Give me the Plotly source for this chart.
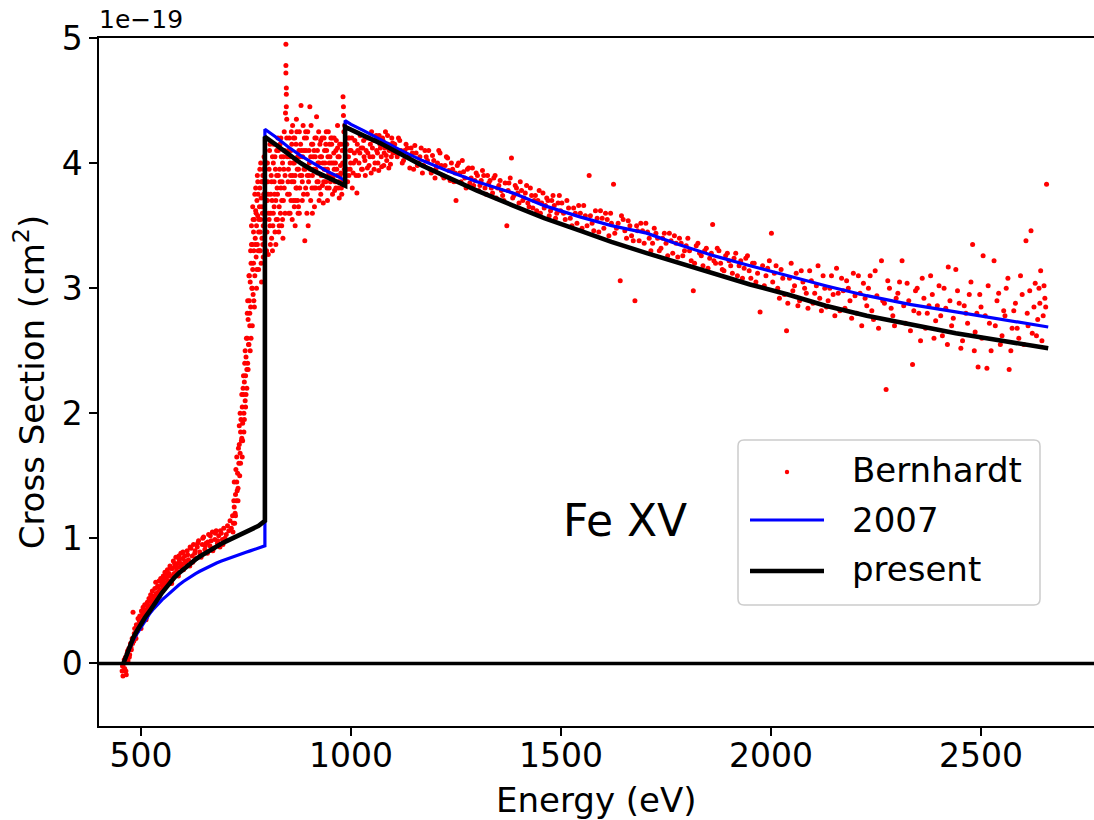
import plotly.graph_objects as go

# ---------------- Bernhardt measurement (x in eV, y in 1e-19 cm^2) ----------------
bern_e_low = [455, 457, 459, 461, 463, 465, 467, 469, 471, 473, 475, 477, 479, 481, 483, 485, 487, 489, 491, 493,
              495, 497, 499, 501, 503, 505, 507, 509, 511, 513, 515, 517, 519, 521, 523, 525, 527, 529, 531, 533,
              535, 537, 539, 541, 543, 545, 547, 549, 551, 553, 555, 557, 559, 561, 563, 565, 567, 569, 571, 573,
              575, 577, 579, 581, 583, 585, 587, 589, 591, 593, 595, 597, 599, 601, 604, 607, 610, 613, 616, 619,
              622, 625, 628, 631, 634, 637, 640, 643, 646, 649, 652, 655, 658, 661, 664, 667, 670, 673, 676, 679,
              682, 685, 688, 691, 694, 697, 700]
bern_y_low = [-0.06, -0.10, 0.00, -0.04, 0.05, -0.09, 0.08, 0.02, 0.12, 0.07, 0.16, 0.11, 0.20, 0.41, 0.18, 0.28, 0.23, 0.31, 0.26, 0.36,
              0.29, 0.38, 0.32, 0.42, 0.35, 0.45, 0.38, 0.47, 0.41, 0.37, 0.49, 0.44, 0.52, 0.46, 0.55, 0.49, 0.58, 0.51, 0.47, 0.60,
              0.65, 0.55, 0.61, 0.57, 0.66, 0.59, 0.68, 0.63, 0.58, 0.70, 0.65, 0.73, 0.62, 0.69, 0.75, 0.66, 0.72, 0.78, 0.70, 0.64,
              0.76, 0.82, 0.72, 0.78, 0.85, 0.74, 0.80, 0.70, 0.83, 0.77, 0.88, 0.79, 0.84, 0.75, 0.86, 0.80, 0.90, 0.83, 0.78, 0.92,
              0.86, 0.95, 0.88, 0.84, 0.93, 0.98, 0.89, 0.85, 0.95, 1.01, 0.91, 0.96, 0.88, 1.03, 0.94, 0.98, 1.05, 0.92, 0.99, 1.06,
              0.96, 1.02, 0.93, 1.04, 0.99, 1.08, 1.00]

bern_e_low2 = [456, 460, 464, 468, 472, 476, 480, 484, 488, 492, 496, 500, 504, 508, 512, 516, 520, 524, 528, 532,
               536, 540, 544, 548, 552, 556, 560, 564, 568, 572, 576, 580, 585, 590, 595, 600, 605, 611, 617, 623,
               629, 635, 641, 647, 653, 659, 665, 671, 677, 683, 689, 695]
bern_y_low2 = [-0.02, 0.03, -0.06, 0.10, 0.05, 0.13, 0.16, 0.24, 0.20, 0.29, 0.34, 0.28, 0.40, 0.43, 0.35, 0.46, 0.42, 0.50, 0.54, 0.52,
               0.56, 0.62, 0.54, 0.66, 0.61, 0.68, 0.72, 0.64, 0.70, 0.76, 0.68, 0.80, 0.77, 0.86, 0.80, 0.89, 0.82, 0.87, 0.93, 0.81,
               0.90, 0.96, 0.87, 1.00, 0.94, 0.97, 1.02, 0.90, 1.04, 0.98, 1.06, 0.95]

bern_e_rise = [703, 706, 709, 712, 715, 718, 720, 722, 724, 725, 727, 728, 730, 731, 733, 734, 736, 737, 738, 740,
               741, 742, 744, 745, 746, 748, 749, 750, 752, 753, 754, 755, 757, 758, 759, 760, 761, 762, 764, 765,
               766, 767, 768, 769, 770, 771, 772, 773, 774, 775, 776, 777, 778, 779, 780, 782, 783, 784, 785, 786,
               787, 788, 789, 790, 791, 792]
bern_y_rise = [1.03, 1.10, 1.06, 1.14, 1.08, 1.18, 1.12, 1.25, 1.20, 1.35, 1.30, 1.45, 1.52, 1.40, 1.60, 1.75, 1.68, 1.85, 1.95, 1.80,
               2.05, 1.92, 2.15, 2.00, 2.25, 2.10, 2.30, 2.45, 2.20, 2.60, 2.40, 2.75, 2.55, 2.90, 2.70, 3.05, 2.85, 3.20, 3.00, 3.35,
               3.15, 2.95, 3.45, 3.30, 3.55, 3.10, 3.40, 3.62, 3.25, 3.50, 3.70, 3.35, 3.58, 3.75, 3.45, 3.65, 3.80, 3.30, 3.55, 3.72,
               3.85, 3.40, 3.60, 3.90, 3.50, 3.75]

bern_pts_rise2 = [(719, 1.05), (721, 1.30), (723, 1.12), (726, 1.55), (729, 1.38), (732, 1.72), (735, 1.50), (736, 2.00),
                  (739, 1.78), (741, 1.65), (743, 2.20), (745, 1.85), (747, 2.40), (749, 2.05), (751, 2.60), (752, 2.35),
                  (754, 2.90), (756, 2.55), (757, 3.10), (759, 2.80), (761, 3.30), (762, 2.60), (763, 3.50), (765, 3.00),
                  (766, 3.65), (768, 3.20), (769, 2.90), (771, 3.75), (772, 3.35), (774, 3.60), (776, 3.15), (778, 3.85),
                  (779, 3.30), (781, 3.55), (783, 3.95), (784, 3.45), (786, 3.20), (788, 3.65), (790, 3.35), (792, 3.95),
                  (794, 3.60)]

bern_pts_rise3 = [(722, 1.45), (725, 1.18), (728, 1.65), (731, 1.30), (734, 1.90), (737, 1.60), (740, 2.15), (742, 1.78),
                  (744, 2.30), (746, 1.95), (748, 2.50), (750, 2.15), (753, 2.80), (755, 2.35), (758, 3.10), (760, 2.50),
                  (763, 3.35), (765, 2.70), (767, 3.55), (770, 2.85), (773, 3.80), (775, 3.00), (777, 3.90), (780, 3.15),
                  (782, 3.30), (785, 4.00), (787, 3.05), (789, 3.85), (791, 3.25), (793, 4.05)]

bern_e_peak = [795, 797, 799, 801, 803, 805, 807, 809, 811, 813, 815, 817, 819, 821, 823, 825, 827, 829, 831, 833,
               835, 837, 839, 841, 843, 844, 845, 845, 845, 846, 846, 846, 847, 847, 848, 849, 851, 853, 855, 857,
               859, 861, 863, 865, 867, 869, 871, 873, 875, 877, 879]
bern_y_peak = [3.55, 3.85, 3.30, 3.70, 3.27, 3.95, 3.50, 3.75, 3.40, 4.05, 3.60, 3.85, 3.45, 3.70, 4.10, 3.55, 3.90, 3.65, 4.15, 3.80,
               3.50, 4.00, 3.70, 4.25, 3.90, 4.40, 4.95, 4.78, 4.72, 4.60, 4.55, 4.45, 4.35, 4.20, 4.05, 3.75, 3.95, 4.20, 3.60, 4.10,
               3.85, 4.30, 3.70, 4.00, 3.50, 4.15, 3.80, 4.05, 3.65, 4.25, 3.90]

bern_pts_peak2 = [(796, 3.70), (798, 4.00), (800, 3.45), (802, 3.85), (804, 3.60), (806, 4.10), (808, 3.35), (810, 3.90),
                  (812, 3.70), (814, 3.50), (816, 4.15), (818, 3.75), (820, 3.95), (822, 3.55), (824, 3.80), (826, 4.20),
                  (828, 3.45), (830, 3.95), (832, 3.60), (834, 4.05), (836, 3.85), (838, 3.40), (840, 3.95), (842, 4.10),
                  (850, 3.85), (852, 3.60), (854, 4.05), (856, 3.90), (858, 4.25), (860, 3.55), (862, 4.00), (864, 3.85),
                  (866, 4.20), (868, 3.70), (870, 4.35), (872, 3.95), (874, 3.60), (876, 4.10), (878, 3.80), (880, 4.15)]

bern_pts_peak3 = [(801, 4.00), (803, 3.75), (805, 3.55), (807, 4.15), (809, 3.60), (811, 3.85), (813, 3.30), (815, 4.00),
                  (817, 3.65), (819, 4.05), (821, 3.35), (823, 3.90), (825, 3.75), (827, 4.10), (829, 3.50), (831, 3.85),
                  (833, 4.20), (835, 3.70), (837, 3.55), (839, 4.05), (841, 3.80), (843, 3.60), (851, 4.10), (853, 3.75),
                  (855, 4.00), (857, 3.70), (859, 4.15), (861, 3.90), (863, 4.20), (865, 3.65), (867, 3.90), (869, 3.80),
                  (871, 4.25), (873, 3.70), (875, 3.95), (877, 3.60), (879, 4.05)]

bern_e_mid = [881, 883, 885, 887, 889, 890, 891, 893, 895, 897, 899, 901, 902, 904, 906, 908, 910, 912, 914, 916,
              918, 920, 922, 924, 926, 928, 930, 932, 934, 936, 938, 940, 942, 944, 946, 948, 950, 952, 954, 956,
              958, 960, 962, 964, 966, 968, 970, 972, 974, 976, 978, 980, 981, 982, 982, 983, 984, 985]
bern_y_mid = [4.46, 3.90, 4.05, 3.75, 4.20, 3.38, 3.95, 4.10, 3.60, 4.25, 3.85, 4.00, 4.45, 3.70, 4.15, 3.90, 4.05, 3.80, 4.20, 3.95,
              4.37, 4.10, 3.85, 4.00, 4.15, 3.75, 4.05, 3.90, 3.68, 4.20, 4.00, 3.85, 4.10, 3.95, 4.25, 3.80, 4.05, 3.90, 4.15, 3.75,
              4.00, 4.20, 3.85, 4.10, 3.95, 4.30, 3.80, 4.05, 3.90, 4.15, 3.75, 4.00, 4.53, 4.45, 4.38, 4.25, 3.95, 4.10]

bern_pts_mid2 = [(882, 4.10), (884, 3.70), (886, 4.30), (888, 3.95), (892, 3.80), (894, 4.20), (896, 3.90), (898, 3.50),
                 (900, 4.10), (903, 3.95), (905, 4.30), (907, 3.80), (909, 4.15), (911, 3.95), (913, 3.65), (915, 4.05),
                 (917, 4.20), (919, 3.85), (921, 4.00), (923, 4.25), (925, 3.80), (927, 4.05), (929, 3.90), (931, 4.20),
                 (933, 4.00), (935, 3.85), (937, 4.10), (939, 3.95), (941, 4.25), (943, 3.80), (945, 4.05), (947, 3.92),
                 (949, 4.15), (951, 3.85), (953, 4.00), (955, 4.20), (957, 3.90), (959, 4.08), (961, 3.78), (963, 4.00),
                 (965, 4.18), (967, 3.90), (969, 4.05), (971, 3.85), (973, 4.15), (975, 3.98), (977, 3.80), (979, 4.10),
                 (983, 3.85), (985, 4.30)]

bern_pts_mid3 = [(884, 3.85), (888, 4.10), (892, 4.25), (896, 3.75), (900, 3.90), (904, 4.05), (908, 3.60), (912, 4.10),
                 (916, 3.80), (920, 3.92), (924, 3.70), (928, 4.18), (932, 3.82), (936, 3.95), (940, 4.15), (944, 3.70),
                 (948, 4.00), (952, 4.20), (956, 3.88), (960, 3.95), (964, 3.80), (968, 4.12), (972, 3.72), (976, 3.92),
                 (980, 3.85), (984, 4.15)]

bern_e_edge = [988, 990, 992, 994, 996, 998, 1000, 1003, 1006, 1009, 1012, 1014, 1016, 1019, 1022, 1025, 1028, 1031, 1034, 1037,
               1040, 1043, 1046, 1049, 1052, 1055, 1058, 1061, 1064, 1067, 1070, 1073, 1076, 1079, 1082, 1085, 1088, 1091, 1094, 1097,
               1100]
bern_y_edge = [3.90, 4.15, 3.85, 4.05, 4.20, 3.95, 4.10, 3.80, 4.00, 4.18, 3.90, 3.76, 4.10, 4.00, 4.22, 3.95, 4.12, 4.05, 3.90, 4.20,
               4.08, 3.98, 4.15, 4.25, 4.05, 3.95, 4.18, 4.10, 4.00, 4.22, 4.12, 3.97, 4.18, 4.08, 4.25, 4.02, 4.15, 4.10, 3.99, 4.20,
               4.08]

bern_pts_edge2 = [(989, 4.05), (991, 3.95), (993, 4.20), (995, 3.90), (997, 4.10), (999, 4.00), (1002, 4.20), (1005, 3.92),
                  (1008, 4.08), (1011, 4.02), (1015, 4.15), (1018, 3.90), (1021, 4.08), (1024, 4.12), (1027, 3.95), (1030, 4.18),
                  (1033, 4.02), (1036, 4.10), (1039, 3.96), (1042, 4.20), (1045, 4.05), (1048, 3.92), (1051, 4.12), (1054, 4.18),
                  (1057, 4.00), (1060, 4.22), (1063, 4.08), (1066, 3.94), (1069, 4.15), (1072, 4.05), (1075, 4.20), (1078, 3.98),
                  (1081, 4.12), (1084, 4.06), (1087, 4.22), (1090, 3.96), (1093, 4.14), (1096, 4.05), (1099, 4.16)]

bern_e_tail1 = [1104, 1110, 1116, 1122, 1128, 1134, 1140, 1146, 1152, 1158, 1164, 1170, 1176, 1182, 1188, 1194, 1200, 1206, 1212, 1218,
                1224, 1230, 1236, 1242, 1248, 1250, 1256, 1262, 1268, 1274, 1280, 1286, 1292, 1298, 1304, 1310, 1316, 1322, 1328, 1334,
                1340, 1346, 1352, 1358, 1364, 1371, 1376, 1382, 1388, 1394, 1400, 1406, 1412, 1418, 1424, 1430, 1436, 1442, 1448, 1454,
                1460, 1466, 1472, 1478, 1484, 1490, 1496]
bern_y_tail1 = [4.15, 4.05, 4.18, 4.00, 4.10, 4.12, 3.96, 4.08, 4.14, 3.98, 4.05, 3.92, 4.10, 4.02, 3.95, 4.06, 3.88, 4.00, 4.08, 3.90,
                3.98, 4.04, 3.86, 3.95, 3.92, 3.70, 4.00, 3.85, 3.93, 3.80, 3.96, 3.88, 3.82, 3.92, 3.78, 3.86, 3.90, 3.75, 3.84, 3.80,
                3.88, 3.72, 3.82, 3.78, 3.70, 3.50, 3.84, 4.04, 3.74, 3.80, 3.68, 3.78, 3.72, 3.82, 3.65, 3.74, 3.70, 3.62, 3.78, 3.68,
                3.64, 3.72, 3.58, 3.70, 3.66, 3.60, 3.74]

bern_pts_tail1b = [(1107, 4.08), (1113, 4.20), (1119, 4.10), (1125, 4.02), (1131, 4.15), (1137, 4.05), (1143, 4.12), (1149, 3.95),
                   (1155, 4.08), (1161, 4.00), (1167, 4.12), (1173, 3.98), (1179, 4.05), (1185, 4.10), (1191, 3.92), (1197, 4.02),
                   (1203, 3.96), (1209, 4.10), (1215, 3.98), (1221, 3.88), (1227, 4.05), (1233, 3.94), (1239, 4.00), (1245, 3.85),
                   (1253, 3.98), (1259, 3.92), (1265, 4.02), (1271, 3.88), (1277, 3.95), (1283, 3.84), (1289, 3.96), (1295, 3.86),
                   (1301, 3.90), (1307, 3.82), (1313, 3.94), (1319, 3.80), (1325, 3.90), (1331, 3.86), (1337, 3.76), (1343, 3.90),
                   (1349, 3.80), (1355, 3.86), (1361, 3.74), (1367, 3.84), (1374, 3.78), (1379, 3.88), (1385, 3.72), (1391, 3.82),
                   (1397, 3.76), (1403, 3.85), (1409, 3.70), (1415, 3.76), (1421, 3.68), (1427, 3.80), (1433, 3.64), (1439, 3.74),
                   (1445, 3.70), (1451, 3.60), (1457, 3.76), (1463, 3.66), (1469, 3.70), (1475, 3.62), (1481, 3.74), (1487, 3.56),
                   (1493, 3.68), (1499, 3.62)]

bern_e_tail2 = [1502, 1510, 1518, 1526, 1534, 1542, 1550, 1558, 1567, 1574, 1582, 1590, 1598, 1606, 1614, 1620, 1625, 1632, 1641, 1648,
                1656, 1664, 1672, 1676, 1682, 1690, 1698, 1706, 1714, 1722, 1730, 1738, 1746, 1754, 1762, 1770, 1778, 1786, 1794, 1802,
                1810, 1815, 1822, 1830, 1838, 1846, 1854, 1861, 1868, 1876, 1884, 1892, 1900, 1908, 1916, 1924, 1932, 1940, 1948, 1956,
                1964, 1974, 1980, 1988, 1996, 2001]
bern_y_tail2 = [3.68, 3.55, 3.64, 3.50, 3.60, 3.66, 3.48, 3.58, 3.90, 3.52, 3.62, 3.45, 3.56, 3.60, 3.42, 3.52, 3.83, 3.48, 3.06, 3.55,
                3.40, 3.50, 3.38, 2.90, 3.46, 3.52, 3.36, 3.45, 3.30, 3.48, 3.40, 3.32, 3.44, 3.26, 3.38, 3.42, 3.25, 3.36, 3.30, 3.40,
                3.22, 2.98, 3.34, 3.28, 3.18, 3.32, 3.24, 3.51, 3.20, 3.30, 3.15, 3.26, 3.22, 3.12, 3.28, 3.18, 3.08, 3.24, 3.14, 3.20,
                3.05, 2.81, 3.18, 3.10, 3.22, 3.44]

bern_pts_tail2b = [(1506, 3.60), (1514, 3.70), (1522, 3.56), (1530, 3.64), (1538, 3.52), (1546, 3.60), (1554, 3.66), (1562, 3.50),
                   (1570, 3.58), (1578, 3.46), (1586, 3.56), (1594, 3.62), (1602, 3.48), (1610, 3.55), (1618, 3.60), (1628, 3.44),
                   (1636, 3.52), (1644, 3.58), (1652, 3.46), (1660, 3.54), (1668, 3.42), (1680, 3.50), (1686, 3.38), (1694, 3.46),
                   (1702, 3.52), (1710, 3.40), (1718, 3.36), (1726, 3.44), (1734, 3.30), (1742, 3.40), (1750, 3.36), (1758, 3.44),
                   (1766, 3.28), (1774, 3.36), (1782, 3.40), (1790, 3.26), (1798, 3.34), (1806, 3.30), (1818, 3.20), (1826, 3.36),
                   (1834, 3.26), (1842, 3.30), (1850, 3.16), (1858, 3.28), (1864, 3.22), (1872, 3.32), (1880, 3.20), (1888, 3.14),
                   (1896, 3.28), (1904, 3.18), (1912, 3.24), (1920, 3.10), (1928, 3.22), (1936, 3.16), (1944, 3.26), (1952, 3.08),
                   (1960, 3.20), (1968, 3.12), (1984, 3.02), (1992, 3.16)]

bern_e_tail3 = [2008, 2016, 2024, 2032, 2037, 2044, 2052, 2060, 2068, 2076, 2084, 2092, 2100, 2108, 2116, 2124, 2132, 2140, 2148, 2156,
                2164, 2172, 2180, 2188, 2196, 2204, 2212, 2220, 2228, 2236, 2244, 2252, 2263, 2270, 2274, 2282, 2290, 2298, 2306, 2312,
                2320, 2328, 2337, 2344, 2352, 2360, 2368, 2376, 2384, 2392, 2400, 2408, 2416, 2422, 2430, 2440, 2448, 2456, 2464, 2472,
                2480, 2486, 2493, 2500, 2505, 2514, 2520, 2531, 2538, 2546, 2554, 2560, 2567, 2574, 2582, 2590, 2598, 2607, 2612, 2619,
                2626, 2632, 2638, 2642, 2648, 2652, 2656]
bern_y_tail3 = [3.12, 3.00, 3.15, 2.95, 2.66, 3.08, 2.98, 3.12, 2.90, 3.05, 2.96, 3.14, 2.88, 3.02, 2.92, 3.10, 2.85, 3.00, 2.95, 3.16,
                2.82, 2.98, 3.06, 2.90, 3.12, 2.80, 2.96, 3.04, 2.86, 3.10, 2.75, 2.94, 3.22, 2.88, 2.19, 3.00, 2.78, 2.92, 3.05, 3.22,
                2.72, 2.90, 2.39, 2.98, 2.80, 3.08, 2.68, 2.86, 2.95, 2.74, 3.02, 2.62, 2.84, 3.17, 2.70, 3.15, 2.88, 2.58, 2.80, 2.95,
                3.35, 2.65, 2.37, 2.85, 3.26, 2.36, 2.72, 3.22, 2.90, 2.55, 2.82, 3.00, 2.35, 2.68, 2.88, 2.60, 2.95, 3.38, 2.70, 3.46,
                2.85, 2.62, 3.00, 3.14, 2.78, 2.92, 3.83]

bern_pts_tail3b = [(2004, 3.05), (2012, 3.18), (2020, 2.92), (2028, 3.08), (2040, 2.88), (2048, 3.20), (2056, 3.02), (2064, 2.86),
                   (2072, 3.14), (2080, 3.00), (2088, 2.84), (2096, 3.06), (2104, 2.96), (2112, 3.18), (2120, 2.82), (2128, 3.00),
                   (2136, 2.90), (2144, 3.10), (2152, 2.78), (2160, 2.96), (2168, 3.08), (2176, 2.84), (2184, 3.00), (2192, 2.76),
                   (2200, 2.94), (2208, 3.10), (2216, 2.70), (2224, 2.92), (2232, 3.00), (2240, 2.82), (2248, 3.14), (2256, 2.68),
                   (2266, 2.90), (2278, 3.06), (2286, 2.84), (2294, 2.70), (2302, 2.96), (2316, 2.86), (2324, 3.04), (2332, 2.66),
                   (2340, 2.82), (2348, 3.00), (2356, 2.58), (2364, 2.92), (2372, 2.80), (2380, 3.10), (2388, 2.60), (2396, 2.86),
                   (2404, 2.78), (2412, 3.00), (2420, 2.55), (2426, 2.90), (2434, 2.76), (2444, 2.98), (2452, 2.52), (2460, 2.86),
                   (2468, 2.72), (2476, 3.05), (2484, 2.50), (2490, 2.80), (2497, 2.95), (2502, 2.60), (2510, 2.78), (2517, 3.02),
                   (2524, 2.50), (2534, 2.70), (2542, 2.96), (2550, 2.62), (2557, 2.78), (2564, 3.08), (2571, 2.50), (2578, 2.82),
                   (2586, 2.68), (2594, 3.10), (2602, 2.55), (2610, 2.80), (2616, 2.98), (2622, 2.64), (2629, 3.04), (2635, 2.75),
                   (2640, 2.88), (2645, 2.58), (2650, 3.02), (2654, 2.85)]

# ---------------- Theory curves ----------------
fit2007_e = [458, 464, 470, 476, 482, 491, 500, 510, 521, 530, 540, 550, 561, 570, 580, 590, 601, 610, 620, 630, 640,
             650, 660, 670, 680, 690, 700, 710, 720, 730, 740, 750, 760, 770, 780, 795,
             795, 820, 850, 880, 910, 940, 965, 986,
             986, 1000, 1030, 1069, 1120, 1170, 1228, 1300, 1386, 1460, 1545, 1620, 1704, 1780, 1863, 1950,
             2040, 2130, 2228, 2330, 2440, 2550, 2660]
fit2007_y = [0.00, 0.05, 0.10, 0.145, 0.19, 0.24, 0.29, 0.345, 0.40, 0.437, 0.475, 0.508, 0.54, 0.569, 0.599, 0.627, 0.655, 0.676, 0.698, 0.718, 0.737,
             0.755, 0.772, 0.788, 0.803, 0.817, 0.830, 0.843, 0.855, 0.867, 0.878, 0.889, 0.900, 0.911, 0.922, 0.94,
             4.27, 4.21, 4.13, 4.06, 4.00, 3.94, 3.90, 3.86,
             4.34, 4.31, 4.26, 4.19, 4.10, 4.02, 3.94, 3.85, 3.76, 3.66, 3.57, 3.50, 3.44, 3.35, 3.26, 3.18,
             3.10, 3.02, 2.94, 2.87, 2.81, 2.75, 2.69]

present_e = [458, 464, 470, 476, 482, 491, 500, 510, 521, 530, 540, 550, 561, 570, 580, 590, 601, 610, 620, 630, 640,
             650, 660, 670, 680, 690, 700, 710, 720, 730, 740, 750, 760, 770, 780, 795,
             795, 820, 850, 880, 910, 940, 965, 986,
             986, 1000, 1030, 1069, 1120, 1170, 1228, 1300, 1386, 1460, 1545, 1620, 1704, 1780, 1863, 1950,
             2040, 2130, 2228, 2330, 2440, 2550, 2660]
present_y = [0.00, 0.055, 0.11, 0.16, 0.21, 0.265, 0.32, 0.37, 0.42, 0.47, 0.52, 0.565, 0.61, 0.65, 0.688, 0.722, 0.755, 0.782, 0.808, 0.832, 0.855,
             0.877, 0.898, 0.918, 0.937, 0.955, 0.972, 0.989, 1.005, 1.021, 1.037, 1.053, 1.069, 1.085, 1.10, 1.14,
             4.21, 4.15, 4.07, 4.00, 3.94, 3.89, 3.85, 3.82,
             4.29, 4.27, 4.22, 4.16, 4.07, 3.98, 3.89, 3.78, 3.66, 3.56, 3.46, 3.37, 3.28, 3.20, 3.12, 3.03,
             2.95, 2.86, 2.78, 2.71, 2.64, 2.58, 2.52]

x_ticks = [500, 1000, 1500, 2000, 2500]
y_ticks = [0, 1, 2, 3, 4, 5]
legend_labels = ["Bernhardt", "2007", "present"]

extra_pts = (bern_pts_rise2 + bern_pts_rise3 + bern_pts_peak2 + bern_pts_peak3 + bern_pts_mid2 + bern_pts_mid3
             + bern_pts_edge2 + bern_pts_tail1b + bern_pts_tail2b + bern_pts_tail3b)
bern_e = (bern_e_low + bern_e_low2 + bern_e_rise + bern_e_peak + bern_e_mid + bern_e_edge
          + bern_e_tail1 + bern_e_tail2 + bern_e_tail3 + [p[0] for p in extra_pts])
bern_y = (bern_y_low + bern_y_low2 + bern_y_rise + bern_y_peak + bern_y_mid + bern_y_edge
          + bern_y_tail1 + bern_y_tail2 + bern_y_tail3 + [p[1] for p in extra_pts])

FONT = "DejaVu Sans"
RED, BLUE, BLACK = "#ff0000", "#0000ff", "#000000"

fig = go.Figure()
fig.add_trace(go.Scatter(x=bern_e, y=bern_y, mode="markers", name=legend_labels[0], showlegend=False,
                         marker=dict(color=RED, size=5, line=dict(width=0))))
fig.add_trace(go.Scatter(x=fit2007_e, y=fit2007_y, mode="lines", name=legend_labels[1], showlegend=False,
                         line=dict(color=BLUE, width=3.2)))
fig.add_trace(go.Scatter(x=present_e, y=present_y, mode="lines", name=legend_labels[2], showlegend=False,
                         line=dict(color=BLACK, width=4.6)))

# zero line (axhline)
fig.add_shape(type="line", xref="paper", yref="y", x0=0, x1=1, y0=0, y1=0,
              line=dict(color="black", width=3.5), layer="above")

# ---- legend box (matplotlib-style, drawn in paper coordinates) ----
PW, PH = 995.0, 688.0          # plot area size in px
def px2x(px):
    return (px - 99) / PW
def px2y(py):
    return (726 - py) / PH

bx0, bx1, by0, by1 = px2x(738), px2x(1040), px2y(605), px2y(440)
rx, ry = 6 / PW, 6 / PH
box_path = (f"M {bx0+rx},{by1} L {bx1-rx},{by1} Q {bx1},{by1} {bx1},{by1-ry} "
            f"L {bx1},{by0+ry} Q {bx1},{by0} {bx1-rx},{by0} L {bx0+rx},{by0} "
            f"Q {bx0},{by0} {bx0},{by0+ry} L {bx0},{by1-ry} Q {bx0},{by1} {bx0+rx},{by1} Z")
fig.add_shape(type="path", xref="paper", yref="paper", path=box_path,
              fillcolor="rgba(255,255,255,0.8)", line=dict(color="#cccccc", width=1.5), layer="above")
fig.add_shape(type="circle", xref="paper", yref="paper",
              x0=px2x(784.8), x1=px2x(789.2), y0=px2y(474.2), y1=px2y(469.8),
              fillcolor=RED, line=dict(width=0), layer="above")
fig.add_shape(type="line", xref="paper", yref="paper", x0=px2x(750), x1=px2x(824),
              y0=px2y(520), y1=px2y(520), line=dict(color=BLUE, width=3.2), layer="above")
fig.add_shape(type="line", xref="paper", yref="paper", x0=px2x(750), x1=px2x(824),
              y0=px2y(571), y1=px2y(571), line=dict(color=BLACK, width=4.6), layer="above")
for lab, cy in zip(legend_labels, [470, 520, 569]):
    fig.add_annotation(x=px2x(850), y=px2y(cy), xref="paper", yref="paper", text=lab, showarrow=False,
                       xanchor="left", yanchor="middle", font=dict(family=FONT, size=34, color="black"))

fig.add_annotation(x=1500, y=1.0, xref="x", yref="y", text="Fe XV", showarrow=False,
                   xanchor="left", yanchor="bottom", yshift=-10,
                   font=dict(family=FONT, size=44, color="black"))
fig.add_annotation(x=0, y=1, xref="paper", yref="paper", text="1e\u221219", showarrow=False,
                   xanchor="left", yanchor="bottom", yshift=2, xshift=-2,
                   font=dict(family=FONT, size=25, color="black"))
fig.add_annotation(x=0.5, y=-0.108, xref="paper", yref="paper", text="Energy (eV)", showarrow=False,
                   xanchor="center", yanchor="middle",
                   font=dict(family=FONT, size=34, color="black"))
fig.add_annotation(x=-0.07, y=0.5, xref="paper", yref="paper", text="Cross Section (cm<sup>2</sup>)",
                   showarrow=False, textangle=-90, xanchor="center", yanchor="middle",
                   font=dict(family=FONT, size=34, color="black"))

fig.update_layout(
    width=1094, height=820,
    margin=dict(l=99, r=0, t=38, b=94),
    paper_bgcolor="white", plot_bgcolor="white",
    font=dict(family=FONT, size=33, color="black"),
    showlegend=False,
    xaxis=dict(range=[400, 2769], tickvals=x_ticks, ticktext=[str(v) for v in x_ticks],
               showgrid=False, zeroline=False, showline=True, linecolor="black", linewidth=1.5,
               mirror=True, ticks="outside", ticklen=8, tickwidth=1.5, tickcolor="black",
               ticklabelstandoff=-8, tickfont=dict(family=FONT, size=33)),
    yaxis=dict(range=[-0.5, 5], tickvals=y_ticks, ticktext=[str(v) for v in y_ticks],
               showgrid=False, zeroline=False, showline=True, linecolor="black", linewidth=1.5,
               mirror=False, ticks="outside", ticklen=8, tickwidth=1.5, tickcolor="black",
               ticklabelstandoff=0, tickfont=dict(family=FONT, size=33)),
)

fig.write_html("out.html")
